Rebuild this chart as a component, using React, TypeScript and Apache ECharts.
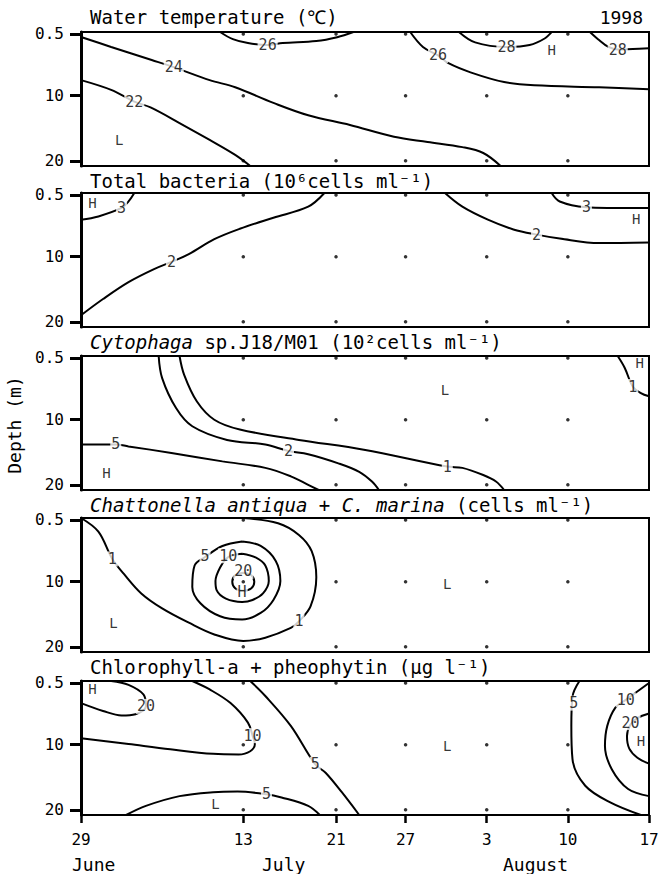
import React, { useEffect, useRef } from "react";
import * as echarts from "echarts";

type Pt = [number, number];
type Lbl = [number, number, string];

const FONT = "'DejaVu Sans Mono', 'Noto Sans', monospace";

// x axis: days after 29 June 1998
const tickDays = [0, 14, 22, 28, 35, 42, 49];
const tickDayLabels = ["29", "13", "21", "27", "3", "10", "17"];
const depthTicks = [0.5, 10, 20];
const sampleDays = [14, 22, 28, 35, 42];
const sampleDepths = [0.5, 10, 20];

const titles = [
  "Water temperature (℃)",
  "Total bacteria (10⁶cells ml⁻¹)",
  "{i|Cytophaga} sp.J18/M01 (10²cells ml⁻¹)",
  "{i|Chattonella antiqua} + {i|C. marina} (cells ml⁻¹)",
  "Chlorophyll-a + pheophytin (μg l⁻¹)",
];
const months = ["June", "July", "August"];

// Panel 1: water temperature contours [day, depth]
const temp24: Pt[] = [[0, 0.96], [2.6, 2.5], [6.1, 4.5], [8.0, 5.6], [11.1, 7.6], [13.3, 8.7], [16.6, 11.1], [19.6, 13.0], [23.2, 14.5], [27.0, 16.3], [29.9, 17.1], [32.9, 17.9], [34.7, 18.8], [36.2, 20.8]];
const temp22: Pt[] = [[0, 7.6], [2.6, 9.1], [4.6, 10.9], [6.0, 11.8], [8.5, 14.2], [11.1, 16.8], [13.3, 19.1], [14.6, 20.8]];
const temp26a: Pt[] = [[12.0, 0.2], [13.1, 1.3], [14.4, 1.9], [16.1, 2.2], [17.4, 1.9], [20.3, 1.6], [22.1, 1.0], [23.5, 0.2]];
const temp26b: Pt[] = [[28.4, 0.2], [29.5, 2.5], [30.8, 3.8], [31.7, 5.0], [33.6, 6.4], [36.5, 7.9], [39.1, 8.4], [44.7, 8.7], [49, 9.0]];
const temp28a: Pt[] = [[32.6, 0.2], [34.0, 1.8], [36.7, 2.5], [38.7, 2.2], [40.0, 1.2], [40.6, 0.2]];
const temp28b: Pt[] = [[43.9, 0.2], [44.6, 1.3], [45.5, 2.5], [46.3, 2.9], [47.6, 2.8], [49, 2.7]];
const tempLabels: Lbl[] = [[8.0, 5.6, "24"], [4.6, 10.9, "22"], [16.1, 2.2, "26"], [30.8, 3.8, "26"], [36.7, 2.5, "28"], [46.3, 2.9, "28"]];
const tempMarks: Lbl[] = [[40.6, 3.0, "H"], [3.3, 16.8, "L"]];

// Panel 2: total bacteria
const bact3a: Pt[] = [[0, 4.3], [1.5, 3.8], [3.5, 2.5], [4.1, 1.5], [4.6, 0.2]];
const bact2a: Pt[] = [[0, 19.0], [1.9, 16.5], [4.1, 13.9], [6.3, 11.9], [7.8, 10.8], [9.3, 9.6], [11.5, 7.3], [13.7, 5.7], [16.6, 4.0], [19.6, 2.3], [21.0, 0.2]];
const bact2b: Pt[] = [[31.4, 0.2], [32.9, 2.3], [35.1, 4.3], [37.3, 5.8], [39.3, 6.6], [41.3, 7.2], [44.7, 7.9], [49, 7.8]];
const bact3b: Pt[] = [[40.6, 0.2], [41.3, 1.5], [43.6, 2.4], [45.4, 2.5], [49, 2.5]];
const bactLabels: Lbl[] = [[3.5, 2.5, "3"], [7.8, 10.8, "2"], [39.3, 6.6, "2"], [43.6, 2.4, "3"]];
const bactMarks: Lbl[] = [[1.0, 1.8, "H"], [47.9, 4.2, "H"]];

// Panel 3: Cytophaga
const cyto1a: Pt[] = [[8.5, 0.2], [8.9, 3.1], [10.0, 7.2], [11.5, 10.0], [13.7, 11.5], [18.8, 13.1], [24.4, 14.6], [31.6, 17.2], [32.9, 17.4], [34.7, 18.5], [35.8, 19.5], [36.5, 20.8]];
const cyto2: Pt[] = [[6.7, 0.2], [7.0, 3.6], [8.2, 8.2], [9.6, 11.0], [12.6, 13.1], [15.9, 13.8], [17.9, 14.8], [19.6, 15.3], [22.2, 16.7], [24.0, 18.0], [25.1, 19.5], [25.7, 20.8]];
const cyto5: Pt[] = [[0, 13.8], [3.0, 13.8], [4.1, 14.1], [7.8, 15.1], [12.2, 16.4], [15.9, 17.4], [18.1, 18.7], [19.6, 20.0], [20.5, 20.8]];
const cyto1b: Pt[] = [[46.3, 0.2], [46.9, 2.0], [47.6, 4.9], [48.3, 5.9], [49, 6.4]];
const cytoLabels: Lbl[] = [[31.6, 17.2, "1"], [17.9, 14.8, "2"], [3.0, 13.8, "5"], [47.6, 4.9, "1"]];
const cytoMarks: Lbl[] = [[48.2, 1.3, "H"], [31.4, 5.4, "L"], [2.2, 18.2, "H"]];

// Panel 4: Chattonella
const chat1: Pt[] = [[0, 0.2], [1.5, 2.3], [2.7, 6.5], [3.7, 8.8], [5.2, 11.8], [7.0, 14.1], [9.3, 16.3], [11.5, 18.1], [14.0, 19.1], [15.9, 18.6], [18.1, 17.1], [18.8, 16.1], [19.8, 13.8], [20.3, 9.3], [19.9, 5.3], [18.8, 2.8], [17.0, 1.0], [14.0, 0.2]];
const chat5: Pt[] = [[13.9, 3.8], [15.5, 4.5], [16.8, 6.8], [17.2, 9.9], [16.6, 12.8], [15.5, 14.8], [13.9, 15.8], [12.0, 15.3], [10.3, 13.3], [9.6, 10.8], [9.8, 7.5], [10.7, 6.2], [12.2, 4.5], [13.9, 3.8]];
const chat10: Pt[] = [[13.9, 5.7], [15.1, 6.3], [15.9, 7.5], [16.2, 9.9], [15.7, 11.8], [14.8, 12.8], [13.9, 13.1], [12.5, 12.6], [11.7, 11.3], [11.6, 9.9], [12.0, 7.8], [12.7, 6.2], [13.9, 5.7]];
const chat20: Pt[] = [[14, 8.6], [14.7, 9.0], [14.95, 10], [14.7, 11.0], [14, 11.4], [13.3, 11.0], [13.05, 10], [13.3, 9.0], [14, 8.6]];
const chatLabels: Lbl[] = [[2.7, 6.5, "1"], [18.8, 16.1, "1"], [10.7, 6.0, "5"], [12.7, 6.0, "10"], [14, 8.4, "20"], [13.9, 11.6, "H"]];
const chatMarks: Lbl[] = [[2.8, 16.3, "L"], [31.6, 10.3, "L"]];

// Panel 5: chlorophyll-a + pheophytin
const chl20a: Pt[] = [[0, 3.6], [1.9, 4.8], [3.5, 5.5], [4.7, 5.3], [5.6, 4.1], [5.4, 2.3], [4.1, 0.8], [2.6, 0.2]];
const chl10a: Pt[] = [[0, 9.0], [4.1, 9.9], [7.7, 10.7], [11.4, 11.4], [13.6, 11.5], [14.6, 11.0], [15.0, 9.9], [14.8, 8.6], [14.4, 6.6], [12.9, 3.6], [11.1, 1.5], [9.6, 0.2]];
const chl5a: Pt[] = [[14.6, 0.2], [15.9, 2.5], [18.1, 7.1], [20.2, 13.0], [21.1, 14.3], [22.5, 17.3], [24.0, 20.8]];
const chl5b: Pt[] = [[3.9, 20.8], [5.6, 19.4], [8.5, 17.9], [11.4, 17.3], [13.5, 17.2], [16.0, 17.6], [17.3, 18.1], [19.6, 19.4], [20.6, 20.8]];
const chl5c: Pt[] = [[43.0, 0.2], [42.4, 2.6], [42.3, 7.1], [42.4, 12.2], [43.5, 16.3], [45.7, 18.9], [48.3, 20.8]];
const chl10b: Pt[] = [[49, 0.5], [47.0, 3.1], [46.1, 4.3], [45.4, 7.1], [45.2, 10.2], [45.8, 13.8], [47.2, 16.8], [49, 17.9]];
const chl20b: Pt[] = [[49, 5.2], [48.0, 5.9], [47.4, 6.9], [47.1, 8.7], [47.3, 10.6], [48.0, 12.0], [49, 12.9]];
const chlLabels: Lbl[] = [[5.6, 4.1, "20"], [14.8, 8.6, "10"], [20.2, 13.0, "5"], [16.0, 17.6, "5"], [42.5, 3.6, "5"], [47.0, 3.1, "10"], [47.4, 6.6, "20"]];
const chlMarks: Lbl[] = [[1.0, 1.5, "H"], [11.6, 19.1, "L"], [31.6, 10.2, "L"], [48.3, 9.4, "H"]];

const panelLines: Pt[][][] = [
  [temp24, temp22, temp26a, temp26b, temp28a, temp28b],
  [bact3a, bact2a, bact2b, bact3b],
  [cyto1a, cyto2, cyto5, cyto1b],
  [chat1, chat5, chat10, chat20],
  [chl20a, chl10a, chl5a, chl5b, chl5c, chl10b, chl20b],
];
const panelLabels: Lbl[][] = [tempLabels, bactLabels, cytoLabels, chatLabels, chlLabels];
const panelMarks: Lbl[][] = [tempMarks, bactMarks, cytoMarks, chatMarks, chlMarks];

const GRID_TOPS = [32, 193, 356, 518, 681];
const GRID_H = 134;
const GRID_L = 81;
const GRID_R = 21;
const TITLE_Y = [18, 182, 343, 506, 668];

function buildOption() {
  const n = panelLines.length;
  const grid: any[] = [];
  const xAxis: any[] = [];
  const yAxis: any[] = [];
  const series: any[] = [];
  for (let i = 0; i < n; i++) {
    const last = i === n - 1;
    grid.push({
      left: GRID_L, right: GRID_R, top: GRID_TOPS[i], height: GRID_H,
      show: true, borderColor: "#000", borderWidth: 2, backgroundColor: "#fff",
    });
    xAxis.push({
      type: "value", gridIndex: i, min: 0, max: 49,
      splitLine: { show: false },
      axisLine: { show: true, lineStyle: { color: "#000", width: 2 } },
      axisTick: last
        ? { show: true, customValues: tickDays, length: 8, inside: false, lineStyle: { color: "#000", width: 2.5 } }
        : { show: false },
      axisLabel: last
        ? {
            show: true, customValues: tickDays, margin: 16, fontSize: 16, fontFamily: FONT, color: "#000",
            formatter: (v: number) => {
              const k = tickDays.indexOf(v);
              return k >= 0 ? tickDayLabels[k] : "";
            },
          }
        : { show: false },
    });
    yAxis.push({
      type: "value", gridIndex: i, inverse: true, min: 0.2, max: 20.8,
      splitLine: { show: false },
      axisLine: { show: true, lineStyle: { color: "#000", width: 3 } },
      axisTick: { show: true, customValues: depthTicks, length: 11, lineStyle: { color: "#000", width: 3 } },
      axisLabel: { show: true, customValues: depthTicks, margin: 17, fontSize: 16, fontFamily: FONT, color: "#000" },
    });
    panelLines[i].forEach((pts) => {
      series.push({
        type: "line", xAxisIndex: i, yAxisIndex: i, data: pts, smooth: 0.35,
        symbol: "none", silent: true, clip: true, z: 2,
        lineStyle: { color: "#000", width: 2 },
      });
    });
    const dots: Pt[] = [];
    sampleDays.forEach((d) => sampleDepths.forEach((z) => dots.push([d, z])));
    series.push({
      type: "scatter", xAxisIndex: i, yAxisIndex: i, data: dots, symbolSize: 3.5,
      itemStyle: { color: "#000" }, silent: true, z: 3,
    });
    series.push({
      type: "scatter", xAxisIndex: i, yAxisIndex: i, z: 5, silent: true,
      data: panelLabels[i].map(([x, y, t]) => ({ value: [x, y], name: t })),
      symbolSize: 1, itemStyle: { color: "rgba(0,0,0,0)" },
      label: {
        show: true, position: "inside", formatter: (p: any) => p.name,
        fontSize: 15, fontFamily: FONT, color: "#000", backgroundColor: "#fff", padding: [0, 1],
      },
    });
    series.push({
      type: "scatter", xAxisIndex: i, yAxisIndex: i, z: 5, silent: true,
      data: panelMarks[i].map(([x, y, t]) => ({ value: [x, y], name: t })),
      symbolSize: 1, itemStyle: { color: "rgba(0,0,0,0)" },
      label: {
        show: true, position: "inside", formatter: (p: any) => p.name,
        fontSize: 14, fontFamily: FONT, color: "#000",
      },
    });
  }

  const graphic: any[] = [];
  titles.forEach((t, i) => {
    graphic.push({
      type: "text", left: 90, top: TITLE_Y[i] - 11, z: 10,
      style: {
        text: t, font: `19px ${FONT}`, fill: "#000",
        rich: { i: { fontStyle: "italic", fontSize: 19, fontFamily: FONT, fill: "#000" } },
      },
    });
  });
  graphic.push({
    type: "text", right: 27, top: 8, z: 10,
    style: { text: "1998", font: `18px ${FONT}`, fill: "#000" },
  });
  graphic.push({ type: "text", left: 72, top: 855, style: { text: months[0], font: `18px ${FONT}`, fill: "#000" } });
  graphic.push({ type: "text", left: 262, top: 855, style: { text: months[1], font: `18px ${FONT}`, fill: "#000" } });
  graphic.push({ type: "text", left: 503, top: 855, style: { text: months[2], font: `18px ${FONT}`, fill: "#000" } });
  graphic.push({
    type: "text", x: 14, y: 425, rotation: Math.PI / 2,
    style: { text: "Depth (m)", font: `18px ${FONT}`, fill: "#000", align: "center", verticalAlign: "middle" },
  });

  return { animation: false, backgroundColor: "#fff", grid, xAxis, yAxis, series, graphic };
}

export default function App() {
  const ref = useRef<HTMLDivElement>(null);
  useEffect(() => {
    if (!ref.current) return;
    const chart = echarts.init(ref.current, undefined, { renderer: "svg" });
    chart.setOption(buildOption() as any);
    return () => chart.dispose();
  }, []);
  return <div ref={ref} style={{ width: 670, height: 874, position: "absolute", left: 0, top: 0 }} />;
}
